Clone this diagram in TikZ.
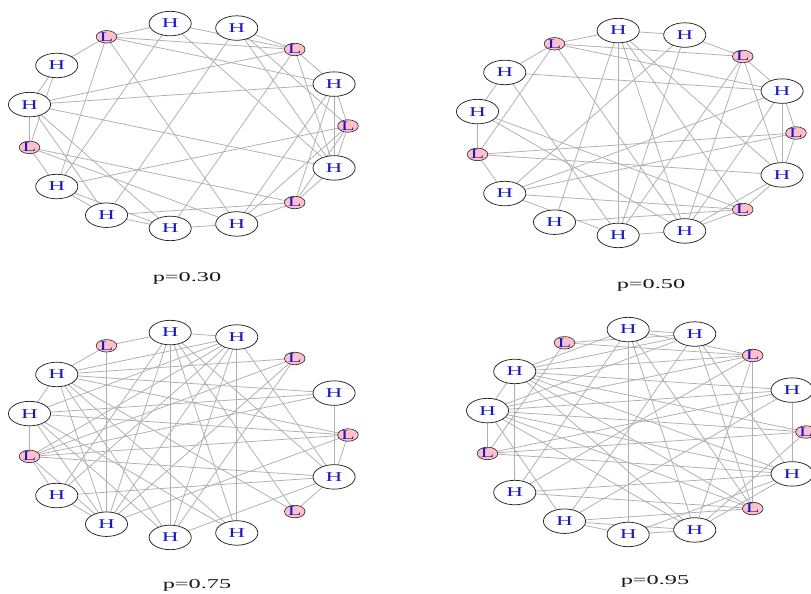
\documentclass[tikz,border=0pt]{standalone}
\usepackage{fontspec}
\setmainfont{Liberation Serif}
\pgfdeclarelayer{bg}
\pgfsetlayers{bg,main}
\definecolor{edgegray}{RGB}{175,175,175}
\definecolor{lpink}{RGB}{255,192,203}
\definecolor{labblue}{RGB}{25,25,190}
\tikzset{
  hnode/.style={circle, draw=black!85, fill=white, line width=0.75pt, minimum size=24.5pt, inner sep=0pt, xscale=1.72, text=labblue, font=\fontsize{13.5}{13}\selectfont},
  lnode/.style={circle, draw=black!85, fill=lpink, line width=0.6pt, minimum size=12.5pt, inner sep=0pt, xscale=1.65, text=labblue, font=\fontsize{13.5}{13}\selectfont},
  edge/.style={draw=edgegray, line width=0.75pt},
  caption/.style={anchor=base, xscale=1.8, text=black!90, font=\fontsize{13.5}{13}\selectfont}
}
\newcommand\ringpanel[3]{%
  \foreach \k/\st/\s in {0/lnode/L,1/hnode/H,2/lnode/L,3/hnode/H,4/hnode/H,5/lnode/L,6/hnode/H,7/hnode/H,8/lnode/L,9/hnode/H,10/hnode/H,11/hnode/H,12/hnode/H,13/lnode/L,14/hnode/H}
    \node[\st] (#1\k) at ({#2+161*cos(24*\k)},{#3-103*sin(24*\k)}) {\s};
}
\newcommand\ringedges[2]{%
  \begin{pgfonlayer}{bg}
  \foreach \i/\j in {#2} \draw[edge] (#1\i.center) -- (#1\j.center);
  \end{pgfonlayer}
}
\begin{document}
\begin{tikzpicture}[x=1pt,y=-1pt]
\useasboundingbox (0,0) rectangle (811,594);
\begin{pgfonlayer}{bg}
\fill[white] (0,0) rectangle (811,594);
\end{pgfonlayer}

% panel 1: p=0.30
\ringpanel{a}{187}{126}
\ringedges{a}{0/14,0/13,0/1,0/3,0/9,0/12,1/2,1/14,1/13,1/12,1/7,1/5,2/3,2/14,2/7,2/11,2/4,2/5,3/14,3/10,4/5,4/14,4/9,5/6,5/9,5/12,6/7,6/8,7/8,7/14,7/10,7/11,8/9,8/12,8/13,9/10,9/11,10/11,10/13,11/12,12/13,13/14}
\node[caption] (pa) at (187,281) {p=0.30};

% panel 2: p=0.50
\ringpanel{b}{635}{133}
\ringedges{b}{4/11,1/14,4/3,4/5,4/10,4/12,4/13,4/14,5/6,5/8,5/12,5/1,5/2,3/11,3/2,3/9,2/1,2/14,2/12,2/11,1/0,1/12,1/9,1/6,0/8,0/14,0/9,14/8,14/13,14/12,13/9,13/12,13/7,12/7,12/11,11/9,9/8,8/7,7/6,6/11,10/13}
\node[caption] (pb) at (651,288) {p=0.50};

% panel 3: p=0.75
\ringpanel{c}{187}{435}
\ringedges{c}{5/10,4/11,3/12,1/14,0/14,13/14,4/5,3/4,4/10,4/9,4/13,4/12,4/14,3/10,3/8,3/7,3/6,3/11,3/14,3/9,2/6,2/10,2/8,2/11,1/6,1/7,1/8,0/8,0/7,0/10,0/6,14/8,14/9,14/11,13/6,12/7,12/6,11/6,11/7,10/7,10/6,10/8,9/8,9/10,7/6,7/8,6/5}
\node[caption] (pc) at (197,588) {p=0.75};

% panel 4: p=0.95
\ringpanel{d}{645}{432}
\ringedges{d}{4/11,6/9,7/8,1/14,2/13,3/4,4/9,4/12,4/13,4/6,3/10,3/13,3/14,3/6,3/5,3/7,2/6,2/12,2/4,2/7,1/7,1/8,1/6,1/10,0/8,0/7,0/12,0/6,14/9,14/7,14/12,14/11,14/8,14/6,13/9,13/10,13/6,13/7,12/6,12/10,12/11,12/7,10/7,10/11,9/2,8/5,5/2,6/7}
\node[caption] (pd) at (655,584) {p=0.95};
\end{tikzpicture}
\end{document}
